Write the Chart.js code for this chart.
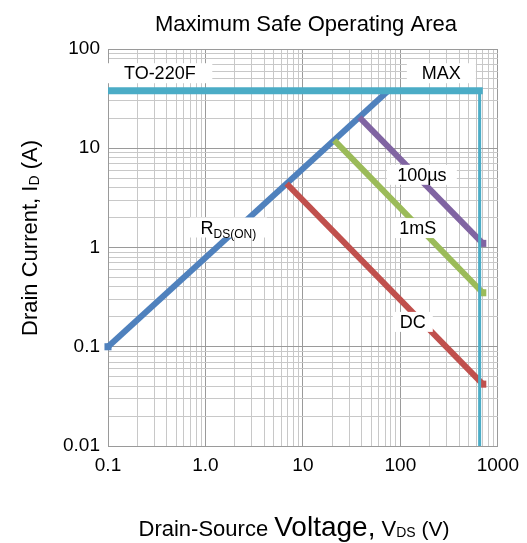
<!DOCTYPE html>
<html>
<head>
<meta charset="utf-8">
<title>Maximum Safe Operating Area</title>
<script src="https://cdn.jsdelivr.net/npm/chart.js@4.4.0/dist/chart.umd.min.js"></script>
<style>
  html, body { margin: 0; padding: 0; background: #fff; }
  #soaChart { display: block; }
</style>
</head>
<body>
<canvas id="soaChart" width="527" height="543"></canvas>
<script>
// Axis decades
const voltTicks = [0.1, 1, 10, 100, 1000];
const voltTickLabels = ['0.1', '1.0', '10', '100', '1000'];
const currentTicks = [0.01, 0.1, 1, 10, 100];
const currentTickLabels = ['0.01', '0.1', '1', '10', '100'];

// RDS(on) limit
const rdsOnVolts = [0.1, 75];
const rdsOnAmps = [0.1, 38];

// Package max current / max drain-source voltage
const maxCurrentVolts = [0.1, 700];
const maxCurrentAmps = [38, 38];
const maxVoltageVolts = [650, 650];
const maxVoltageAmps = [38, 0.01];

// Pulse and DC limits
const pulse100usVolts = [38, 700];
const pulse100usAmps = [20.5, 1.1];
const pulse1msVolts = [21, 700];
const pulse1msAmps = [12, 0.35];
const dcVolts = [6.8, 700];
const dcAmps = [4.4, 0.042];

// In-plot labels (anchored in data units)
const curveLabels = [
    { text: 'TO-220F', volts: 0.34, amps: 57, boxWidth: 105 },
    { text: 'MAX', volts: 263, amps: 57, boxWidth: 69 },
    { text: '100µs', volts: 166, amps: 5.4, boxWidth: 70 },
    { text: '1mS', volts: 151, amps: 1.57, boxWidth: 50 },
    { text: 'R', sub: 'DS(ON)', volts: 1.72, amps: 1.59, boxWidth: 77 },
    { text: 'DC', volts: 134, amps: 0.178, boxWidth: 40 }
];

const FONT = '"Liberation Sans", Arial, Helvetica, sans-serif';
const MAJOR_GRID = '#9a9a9a';
const MINOR_GRID = '#c8c8c8';

function toPoints(xs, ys) {
    return xs.map((x, i) => ({ x: x, y: ys[i] }));
}

// all 1..9 x 10^n ticks so the grid shows every minor line
function logTicks(decades) {
    const out = [];
    decades.forEach((d, i) => {
        out.push({ value: d });
        if (i < decades.length - 1) {
            for (let m = 2; m <= 9; m++) out.push({ value: d * m });
        }
    });
    return out;
}

// draw text pieces of different sizes one after the other, centred on cx
function drawRuns(ctx, runs, cx, baseline) {
    let total = 0;
    runs.forEach(r => {
        ctx.font = r.size + 'px ' + FONT;
        r.w = ctx.measureText(r.text).width;
        total += r.w;
    });
    let x = cx - total / 2;
    ctx.textAlign = 'left';
    ctx.textBaseline = 'alphabetic';
    runs.forEach(r => {
        ctx.font = r.size + 'px ' + FONT;
        ctx.fillText(r.text, x, baseline + (r.dy || 0));
        x += r.w;
    });
}

const textPlugin = {
    id: 'soaText',
    afterDatasetsDraw(chart) {
        const ctx = chart.ctx;
        const xs = chart.scales.x;
        const ys = chart.scales.y;
        ctx.save();

        // boxed curve labels
        curveLabels.forEach(l => {
            const cx = xs.getPixelForValue(l.volts);
            const cy = ys.getPixelForValue(l.amps);
            ctx.fillStyle = '#fff';
            ctx.fillRect(cx - l.boxWidth / 2, cy - 10, l.boxWidth, 20);
            ctx.fillStyle = '#000';
            const runs = [{ text: l.text, size: 18 }];
            if (l.sub) runs.push({ text: l.sub, size: 12, dy: 4 });
            drawRuns(ctx, runs, cx, cy + 6);
        });

        // chart title
        const area = chart.chartArea;
        ctx.fillStyle = '#000';
        drawRuns(ctx, [{ text: 'Maximum Safe Operating Area', size: 22 }],
            (area.left + area.right) / 2 + 3, 31);

        // x axis title
        drawRuns(ctx, [
            { text: 'Drain-Source ', size: 22 },
            { text: 'Voltage,', size: 28 },
            { text: ' V', size: 22 },
            { text: 'DS', size: 14, dy: 1 },
            { text: ' (V)', size: 21 }
        ], 294, 536);

        // y axis title (rotated)
        ctx.translate(37, 238);
        ctx.rotate(-Math.PI / 2);
        drawRuns(ctx, [
            { text: 'Drain Current, I', size: 22 },
            { text: 'D', size: 14, dy: 2 },
            { text: ' (A)', size: 22 }
        ], 0, 0);

        ctx.restore();
    }
};

document.addEventListener('DOMContentLoaded', () => {
    const ctx = document.getElementById('soaChart');

    const lineBase = {
        borderWidth: 6,
        borderCapStyle: 'butt',
        fill: false,
        tension: 0,
        clip: false,
        pointStyle: 'rect',
        pointBorderWidth: 0
    };

    new Chart(ctx, {
        type: 'line',
        data: {
            datasets: [
                Object.assign({}, lineBase, {
                    label: 'MAX current',
                    data: toPoints(maxCurrentVolts, maxCurrentAmps),
                    borderColor: '#4bacc6',
                    borderWidth: 7,
                    pointRadius: 0,
                    order: 0
                }),
                Object.assign({}, lineBase, {
                    label: 'MAX voltage',
                    data: toPoints(maxVoltageVolts, maxVoltageAmps),
                    borderColor: '#4bacc6',
                    borderWidth: 3,
                    pointRadius: 0,
                    order: 0
                }),
                Object.assign({}, lineBase, {
                    label: '100µs',
                    data: toPoints(pulse100usVolts, pulse100usAmps),
                    borderColor: '#8064a2',
                    backgroundColor: '#8064a2',
                    pointRadius: c => (c.dataIndex === 1 ? 5 : 0),
                    order: 1
                }),
                Object.assign({}, lineBase, {
                    label: '1mS',
                    data: toPoints(pulse1msVolts, pulse1msAmps),
                    borderColor: '#9bbb59',
                    backgroundColor: '#9bbb59',
                    pointRadius: c => (c.dataIndex === 1 ? 5 : 0),
                    order: 1
                }),
                Object.assign({}, lineBase, {
                    label: 'DC',
                    data: toPoints(dcVolts, dcAmps),
                    borderColor: '#c0504d',
                    backgroundColor: '#c0504d',
                    pointRadius: c => (c.dataIndex === 1 ? 5 : 0),
                    order: 1
                }),
                Object.assign({}, lineBase, {
                    label: 'RDS(ON)',
                    data: toPoints(rdsOnVolts, rdsOnAmps),
                    borderColor: '#4f81bd',
                    backgroundColor: '#4f81bd',
                    pointRadius: c => (c.dataIndex === 0 ? 5 : 0),
                    order: 2
                })
            ]
        },
        options: {
            responsive: false,
            animation: false,
            devicePixelRatio: 1,
            layout: {
                padding: { top: 49, right: 29, left: 0, bottom: 0 }
            },
            plugins: {
                legend: { display: false },
                tooltip: { enabled: false },
                title: { display: false }
            },
            scales: {
                x: {
                    type: 'logarithmic',
                    min: voltTicks[0],
                    max: voltTicks[voltTicks.length - 1],
                    afterBuildTicks: scale => { scale.ticks = logTicks(voltTicks); },
                    afterFit: scale => { scale.height = 97; },
                    grid: {
                        drawTicks: false,
                        color: c => (voltTicks.includes(c.tick.value) ? MAJOR_GRID : MINOR_GRID)
                    },
                    border: { display: true, color: MAJOR_GRID },
                    ticks: {
                        autoSkip: false,
                        maxRotation: 0,
                        padding: 8,
                        color: '#000',
                        font: { family: FONT, size: 19 },
                        callback: value => {
                            const i = voltTicks.indexOf(value);
                            return i >= 0 ? voltTickLabels[i] : '';
                        }
                    }
                },
                y: {
                    type: 'logarithmic',
                    min: currentTicks[0],
                    max: currentTicks[currentTicks.length - 1],
                    afterBuildTicks: scale => { scale.ticks = logTicks(currentTicks); },
                    afterFit: scale => { scale.width = 108; },
                    grid: {
                        drawTicks: false,
                        color: c => (currentTicks.includes(c.tick.value) ? MAJOR_GRID : MINOR_GRID)
                    },
                    border: { display: true, color: MAJOR_GRID },
                    ticks: {
                        autoSkip: false,
                        padding: 8,
                        color: '#000',
                        font: { family: FONT, size: 19 },
                        callback: value => {
                            const i = currentTicks.indexOf(value);
                            return i >= 0 ? currentTickLabels[i] : '';
                        }
                    }
                }
            }
        },
        plugins: [textPlugin]
    });
});
</script>
</body>
</html>
